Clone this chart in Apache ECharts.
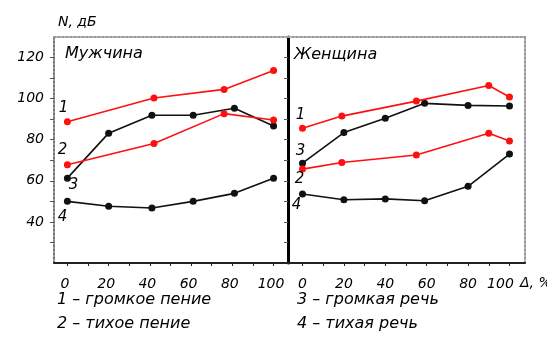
<!DOCTYPE html>
<html><head><meta charset="utf-8">
<script src="https://cdn.jsdelivr.net/npm/echarts@6/dist/echarts.min.js"></script>
<style>html,body{margin:0;padding:0;background:#fff}#c{width:547px;height:338px}</style>
</head><body><div id="c"></div>
<script>
// ---- data ----
const xTickLabels = [0, 20, 40, 60, 80, 100];
const yTickLabels = [40, 60, 80, 100, 120];
const panelTitles = ['Мужчина', 'Женщина'];
const legendTexts = ['1 – громкое пение', '2 – тихое пение', '3 – громкая речь', '4 – тихая речь'];
const yName = 'N, дБ';
const xName = 'Δ, %';

// male
const maleRedX = [0, 42, 76, 100];
const male1 = [88.8, 100.3, 104.5, 113.7];   // 1 – громкое пение
const male2 = [67.8, 78.2, 92.7, 89.6];      // 2 – тихое пение
const maleBlackX = [0, 20, 41, 61, 81, 100];
const male3 = [61.3, 83.2, 91.9, 91.9, 95.3, 86.7]; // 3 – громкая речь
const male4 = [50, 47.6, 46.8, 50, 53.9, 61.3];     // 4 – тихая речь

// female
const femRedX = [0, 19, 55, 90, 100];
const fem1 = [85.6, 91.5, 98.8, 106.4, 100.8];
const fem2 = [65.7, 68.9, 72.6, 83.2, 79.4];
const femBlackX = [0, 20, 40, 59, 80, 100];
const fem3 = [68.6, 83.5, 90.4, 97.7, 96.7, 96.4];
const fem4 = [53.6, 50.8, 51.2, 50.3, 57.3, 73];

// ---- styling ----
const FONT = "'DejaVu Sans', sans-serif";
const RED = '#ff1010';
const BLK = '#111111';
const txt = {fontFamily: FONT, fontStyle: 'italic', fontSize: 14, color: '#000'};

function pairs(xs, ys, labelText, offset) {
  return ys.map((y, i) => {
    const d = {value: [xs[i], y]};
    if (i === 0) d.label = {show: true, formatter: labelText, position: 'inside', offset: offset,
      fontFamily: FONT, fontStyle: 'italic', fontSize: 15, color: '#000'};
    return d;
  });
}
function line(xi, yi, color, data) {
  return {type: 'line', xAxisIndex: xi, yAxisIndex: yi, data: data, symbol: 'circle', symbolSize: 7,
    itemStyle: {color: color}, lineStyle: {color: color, width: 1.6}, label: {show: false},
    animation: false, z: color === RED ? 3 : 2};
}

const yMinorTicks = [30, 40, 50, 60, 70, 80, 90, 100, 110, 120];
const xMinorTicks = [0, 10, 20, 30, 40, 50, 60, 70, 80, 90, 100];

const chart = echarts.init(document.getElementById('c'), null, {renderer: 'canvas'});
chart.setOption({
  backgroundColor: '#fff',
  animation: false,
  grid: [
    {left: 54, top: 37, width: 234, height: 226},
    {left: 288, top: 37, width: 237, height: 226}
  ],
  xAxis: [
    {gridIndex: 0, type: 'value', min: -6.5, max: 107, position: 'bottom',
      axisLine: {onZero: false, lineStyle: {color: '#222', width: 2}},
      axisTick: {customValues: xMinorTicks, length: 3, lineStyle: {color: '#222'}},
      axisLabel: Object.assign({customValues: xTickLabels, margin: 14, padding: [0, 5, 0, 0]}, txt),
      splitLine: {show: false}},
    {gridIndex: 1, type: 'value', min: -7, max: 107.5, position: 'bottom',
      axisLine: {onZero: false, lineStyle: {color: '#222', width: 2}},
      axisTick: {customValues: xMinorTicks, length: 3, lineStyle: {color: '#222'}},
      axisLabel: Object.assign({customValues: xTickLabels, margin: 14,
        formatter: v => v === 100 ? '{s|100}' : String(v),
        rich: {s: {fontFamily: FONT, fontStyle: 'italic', fontSize: 14, color: '#000', padding: [0, 18, 0, 0]}}}, txt),
      splitLine: {show: false}},
    {gridIndex: 0, type: 'value', min: -6.5, max: 107, position: 'top',
      axisLine: {onZero: false, lineStyle: {color: '#999', width: 2, type: 'dotted'}},
      axisTick: {show: false}, axisLabel: {show: false}, splitLine: {show: false}},
    {gridIndex: 1, type: 'value', min: -7, max: 107.5, position: 'top',
      axisLine: {onZero: false, lineStyle: {color: '#999', width: 2, type: 'dotted'}},
      axisTick: {show: false}, axisLabel: {show: false}, splitLine: {show: false}}
  ],
  yAxis: [
    {gridIndex: 0, type: 'value', min: 20, max: 130, position: 'left',
      name: yName, nameLocation: 'end', nameGap: 8,
      nameTextStyle: Object.assign({align: 'left', padding: [0, 0, 0, 4]}, txt),
      axisLine: {show: true, onZero: false, lineStyle: {color: '#777', width: 2, type: 'dotted'}},
      axisTick: {show: true, customValues: yMinorTicks, length: 4, lineStyle: {color: '#555'}},
      axisLabel: Object.assign({customValues: yTickLabels, margin: 10}, txt),
      splitLine: {show: false}},
    {gridIndex: 1, type: 'value', min: 20, max: 130, position: 'left',
      axisLine: {show: true, onZero: false, lineStyle: {color: '#000', width: 3}},
      axisTick: {show: true, customValues: yMinorTicks, length: 4, lineStyle: {color: '#555'}},
      axisLabel: {show: false}, splitLine: {show: false}},
    {gridIndex: 1, type: 'value', min: 20, max: 130, position: 'right',
      axisLine: {show: true, onZero: false, lineStyle: {color: '#999', width: 2, type: 'dotted'}},
      axisTick: {show: false}, axisLabel: {show: false}, splitLine: {show: false}}
  ],
  series: [
    line(0, 0, RED, pairs(maleRedX, male1, '1', [-4, -14])),
    line(0, 0, RED, pairs(maleRedX, male2, '2', [-5, -15])),
    line(0, 0, BLK, pairs(maleBlackX, male3, '3', [6, 7])),
    line(0, 0, BLK, pairs(maleBlackX, male4, '4', [-5, 16])),
    line(1, 1, RED, pairs(femRedX, fem1, '1', [-2, -13])),
    line(1, 1, RED, pairs(femRedX, fem2, '2', [-3, 10])),
    line(1, 1, BLK, pairs(femBlackX, fem3, '3', [-2, -12])),
    line(1, 1, BLK, pairs(femBlackX, fem4, '4', [-6, 11]))
  ],
  graphic: [
    {type: 'text', left: 65, top: 46, style: {text: panelTitles[0], font: 'italic 16px ' + FONT, fill: '#000'}},
    {type: 'text', left: 294, top: 47, style: {text: panelTitles[1], font: 'italic 16px ' + FONT, fill: '#000'}},
    {type: 'text', left: 520, top: 276, style: {text: xName, font: 'italic 14px ' + FONT, fill: '#000'}},
    {type: 'text', left: 57, top: 292, style: {text: legendTexts[0], font: 'italic 16px ' + FONT, fill: '#000'}},
    {type: 'text', left: 57, top: 316, style: {text: legendTexts[1], font: 'italic 16px ' + FONT, fill: '#000'}},
    {type: 'text', left: 297, top: 292, style: {text: legendTexts[2], font: 'italic 16px ' + FONT, fill: '#000'}},
    {type: 'text', left: 297, top: 316, style: {text: legendTexts[3], font: 'italic 16px ' + FONT, fill: '#000'}}
  ]
});
</script></body></html>
